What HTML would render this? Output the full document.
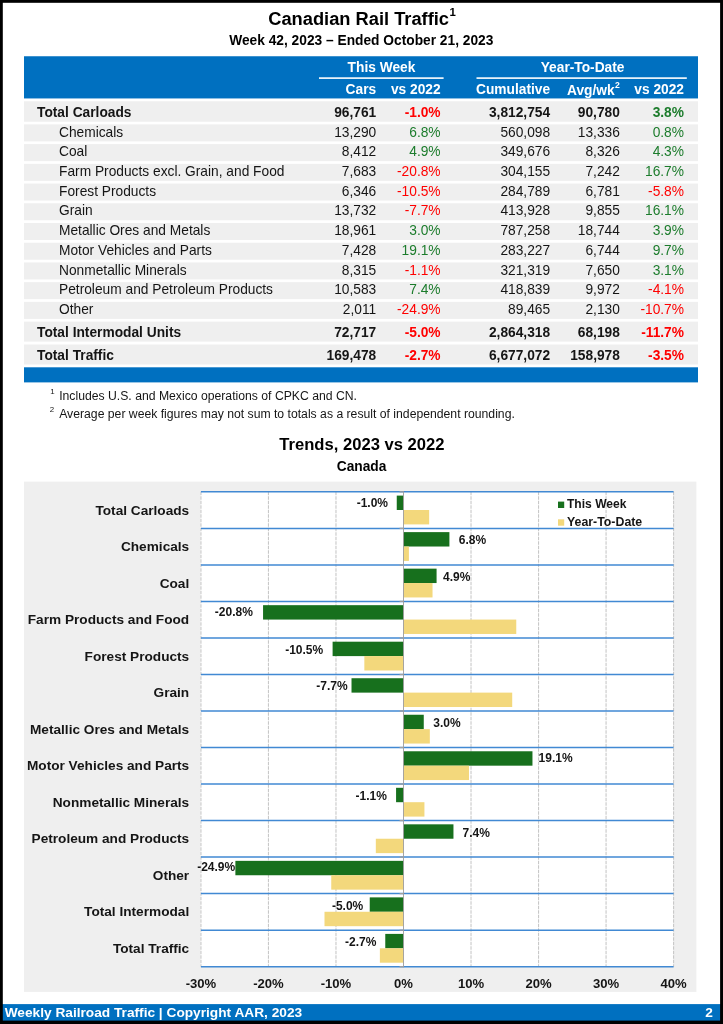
<!DOCTYPE html>
<html lang="en"><head><meta charset="utf-8"><title>Canadian Rail Traffic</title>
<style>
html,body{margin:0;padding:0;background:#fff;}
body{width:723px;height:1024px;overflow:hidden;}
svg{display:block;}
svg text{font-family:"Liberation Sans",sans-serif;font-weight:bold;}
svg text.n{font-weight:normal;}
</style></head><body>
<svg width="723" height="1024" viewBox="0 0 723 1024">
<text x="268.20" y="25.40" font-size="18.3" fill="#000">Canadian Rail Traffic<tspan dy="-9.3" dx="0.4" font-size="11.4">1</tspan></text>
<text x="361.30" y="44.70" font-size="13.75" fill="#000" text-anchor="middle">Week 42, 2023 – Ended October 21, 2023</text>
<rect x="24.00" y="56.25" width="674.00" height="42.20" fill="#0070c0"/>
<rect x="319.00" y="77.30" width="124.60" height="1.60" fill="#fff"/>
<rect x="476.50" y="77.30" width="210.30" height="1.60" fill="#fff"/>
<text x="381.50" y="72.10" font-size="13.75" fill="#fff" text-anchor="middle">This Week</text>
<text x="582.60" y="72.10" font-size="13.75" fill="#fff" text-anchor="middle">Year-To-Date</text>
<text x="376.20" y="94.00" font-size="13.75" fill="#fff" text-anchor="end">Cars</text>
<text x="440.60" y="94.00" font-size="13.75" fill="#fff" text-anchor="end">vs 2022</text>
<text x="550.10" y="94.00" font-size="13.75" fill="#fff" text-anchor="end">Cumulative</text>
<text x="684.00" y="94.00" font-size="13.75" fill="#fff" text-anchor="end">vs 2022</text>
<text x="567.00" y="95.10" font-size="13.75" fill="#fff">Avg/wk<tspan dy="-6.7" dx="0.3" font-size="8.6">2</tspan></text>
<rect x="24.00" y="101.25" width="674.00" height="20.50" fill="#efefef"/>
<text x="37.00" y="116.62" font-size="13.75" fill="#151515">Total Carloads</text>
<text x="376.20" y="116.62" font-size="13.75" fill="#151515" text-anchor="end">96,761</text>
<text x="440.60" y="116.62" font-size="13.75" fill="#ff0000" text-anchor="end">-1.0%</text>
<text x="550.10" y="116.62" font-size="13.75" fill="#151515" text-anchor="end">3,812,754</text>
<text x="619.90" y="116.62" font-size="13.75" fill="#151515" text-anchor="end">90,780</text>
<text x="684.00" y="116.62" font-size="13.75" fill="#1c7c2c" text-anchor="end">3.8%</text>
<rect x="24.00" y="124.40" width="674.00" height="17.00" fill="#efefef"/>
<text x="59.00" y="136.50" font-size="13.75" fill="#151515" class="n">Chemicals</text>
<text x="376.20" y="136.50" font-size="13.75" fill="#151515" text-anchor="end" class="n">13,290</text>
<text x="440.60" y="136.50" font-size="13.75" fill="#1c7c2c" text-anchor="end" class="n">6.8%</text>
<text x="550.10" y="136.50" font-size="13.75" fill="#151515" text-anchor="end" class="n">560,098</text>
<text x="619.90" y="136.50" font-size="13.75" fill="#151515" text-anchor="end" class="n">13,336</text>
<text x="684.00" y="136.50" font-size="13.75" fill="#1c7c2c" text-anchor="end" class="n">0.8%</text>
<rect x="24.00" y="144.12" width="674.00" height="17.00" fill="#efefef"/>
<text x="59.00" y="156.22" font-size="13.75" fill="#151515" class="n">Coal</text>
<text x="376.20" y="156.22" font-size="13.75" fill="#151515" text-anchor="end" class="n">8,412</text>
<text x="440.60" y="156.22" font-size="13.75" fill="#1c7c2c" text-anchor="end" class="n">4.9%</text>
<text x="550.10" y="156.22" font-size="13.75" fill="#151515" text-anchor="end" class="n">349,676</text>
<text x="619.90" y="156.22" font-size="13.75" fill="#151515" text-anchor="end" class="n">8,326</text>
<text x="684.00" y="156.22" font-size="13.75" fill="#1c7c2c" text-anchor="end" class="n">4.3%</text>
<rect x="24.00" y="163.84" width="674.00" height="17.00" fill="#efefef"/>
<text x="59.00" y="175.94" font-size="13.75" fill="#151515" class="n">Farm Products excl. Grain, and Food</text>
<text x="376.20" y="175.94" font-size="13.75" fill="#151515" text-anchor="end" class="n">7,683</text>
<text x="440.60" y="175.94" font-size="13.75" fill="#ff0000" text-anchor="end" class="n">-20.8%</text>
<text x="550.10" y="175.94" font-size="13.75" fill="#151515" text-anchor="end" class="n">304,155</text>
<text x="619.90" y="175.94" font-size="13.75" fill="#151515" text-anchor="end" class="n">7,242</text>
<text x="684.00" y="175.94" font-size="13.75" fill="#1c7c2c" text-anchor="end" class="n">16.7%</text>
<rect x="24.00" y="183.56" width="674.00" height="17.00" fill="#efefef"/>
<text x="59.00" y="195.66" font-size="13.75" fill="#151515" class="n">Forest Products</text>
<text x="376.20" y="195.66" font-size="13.75" fill="#151515" text-anchor="end" class="n">6,346</text>
<text x="440.60" y="195.66" font-size="13.75" fill="#ff0000" text-anchor="end" class="n">-10.5%</text>
<text x="550.10" y="195.66" font-size="13.75" fill="#151515" text-anchor="end" class="n">284,789</text>
<text x="619.90" y="195.66" font-size="13.75" fill="#151515" text-anchor="end" class="n">6,781</text>
<text x="684.00" y="195.66" font-size="13.75" fill="#ff0000" text-anchor="end" class="n">-5.8%</text>
<rect x="24.00" y="203.28" width="674.00" height="17.00" fill="#efefef"/>
<text x="59.00" y="215.38" font-size="13.75" fill="#151515" class="n">Grain</text>
<text x="376.20" y="215.38" font-size="13.75" fill="#151515" text-anchor="end" class="n">13,732</text>
<text x="440.60" y="215.38" font-size="13.75" fill="#ff0000" text-anchor="end" class="n">-7.7%</text>
<text x="550.10" y="215.38" font-size="13.75" fill="#151515" text-anchor="end" class="n">413,928</text>
<text x="619.90" y="215.38" font-size="13.75" fill="#151515" text-anchor="end" class="n">9,855</text>
<text x="684.00" y="215.38" font-size="13.75" fill="#1c7c2c" text-anchor="end" class="n">16.1%</text>
<rect x="24.00" y="223.00" width="674.00" height="17.00" fill="#efefef"/>
<text x="59.00" y="235.10" font-size="13.75" fill="#151515" class="n">Metallic Ores and Metals</text>
<text x="376.20" y="235.10" font-size="13.75" fill="#151515" text-anchor="end" class="n">18,961</text>
<text x="440.60" y="235.10" font-size="13.75" fill="#1c7c2c" text-anchor="end" class="n">3.0%</text>
<text x="550.10" y="235.10" font-size="13.75" fill="#151515" text-anchor="end" class="n">787,258</text>
<text x="619.90" y="235.10" font-size="13.75" fill="#151515" text-anchor="end" class="n">18,744</text>
<text x="684.00" y="235.10" font-size="13.75" fill="#1c7c2c" text-anchor="end" class="n">3.9%</text>
<rect x="24.00" y="242.72" width="674.00" height="17.00" fill="#efefef"/>
<text x="59.00" y="254.82" font-size="13.75" fill="#151515" class="n">Motor Vehicles and Parts</text>
<text x="376.20" y="254.82" font-size="13.75" fill="#151515" text-anchor="end" class="n">7,428</text>
<text x="440.60" y="254.82" font-size="13.75" fill="#1c7c2c" text-anchor="end" class="n">19.1%</text>
<text x="550.10" y="254.82" font-size="13.75" fill="#151515" text-anchor="end" class="n">283,227</text>
<text x="619.90" y="254.82" font-size="13.75" fill="#151515" text-anchor="end" class="n">6,744</text>
<text x="684.00" y="254.82" font-size="13.75" fill="#1c7c2c" text-anchor="end" class="n">9.7%</text>
<rect x="24.00" y="262.44" width="674.00" height="17.00" fill="#efefef"/>
<text x="59.00" y="274.54" font-size="13.75" fill="#151515" class="n">Nonmetallic Minerals</text>
<text x="376.20" y="274.54" font-size="13.75" fill="#151515" text-anchor="end" class="n">8,315</text>
<text x="440.60" y="274.54" font-size="13.75" fill="#ff0000" text-anchor="end" class="n">-1.1%</text>
<text x="550.10" y="274.54" font-size="13.75" fill="#151515" text-anchor="end" class="n">321,319</text>
<text x="619.90" y="274.54" font-size="13.75" fill="#151515" text-anchor="end" class="n">7,650</text>
<text x="684.00" y="274.54" font-size="13.75" fill="#1c7c2c" text-anchor="end" class="n">3.1%</text>
<rect x="24.00" y="282.16" width="674.00" height="17.00" fill="#efefef"/>
<text x="59.00" y="294.26" font-size="13.75" fill="#151515" class="n">Petroleum and Petroleum Products</text>
<text x="376.20" y="294.26" font-size="13.75" fill="#151515" text-anchor="end" class="n">10,583</text>
<text x="440.60" y="294.26" font-size="13.75" fill="#1c7c2c" text-anchor="end" class="n">7.4%</text>
<text x="550.10" y="294.26" font-size="13.75" fill="#151515" text-anchor="end" class="n">418,839</text>
<text x="619.90" y="294.26" font-size="13.75" fill="#151515" text-anchor="end" class="n">9,972</text>
<text x="684.00" y="294.26" font-size="13.75" fill="#ff0000" text-anchor="end" class="n">-4.1%</text>
<rect x="24.00" y="301.88" width="674.00" height="17.00" fill="#efefef"/>
<text x="59.00" y="313.98" font-size="13.75" fill="#151515" class="n">Other</text>
<text x="376.20" y="313.98" font-size="13.75" fill="#151515" text-anchor="end" class="n">2,011</text>
<text x="440.60" y="313.98" font-size="13.75" fill="#ff0000" text-anchor="end" class="n">-24.9%</text>
<text x="550.10" y="313.98" font-size="13.75" fill="#151515" text-anchor="end" class="n">89,465</text>
<text x="619.90" y="313.98" font-size="13.75" fill="#151515" text-anchor="end" class="n">2,130</text>
<text x="684.00" y="313.98" font-size="13.75" fill="#ff0000" text-anchor="end" class="n">-10.7%</text>
<rect x="24.00" y="321.60" width="674.00" height="20.00" fill="#efefef"/>
<text x="37.00" y="336.97" font-size="13.75" fill="#151515">Total Intermodal Units</text>
<text x="376.20" y="336.97" font-size="13.75" fill="#151515" text-anchor="end">72,717</text>
<text x="440.60" y="336.97" font-size="13.75" fill="#ff0000" text-anchor="end">-5.0%</text>
<text x="550.10" y="336.97" font-size="13.75" fill="#151515" text-anchor="end">2,864,318</text>
<text x="619.90" y="336.97" font-size="13.75" fill="#151515" text-anchor="end">68,198</text>
<text x="684.00" y="336.97" font-size="13.75" fill="#ff0000" text-anchor="end">-11.7%</text>
<rect x="24.00" y="344.50" width="674.00" height="20.00" fill="#efefef"/>
<text x="37.00" y="359.87" font-size="13.75" fill="#151515">Total Traffic</text>
<text x="376.20" y="359.87" font-size="13.75" fill="#151515" text-anchor="end">169,478</text>
<text x="440.60" y="359.87" font-size="13.75" fill="#ff0000" text-anchor="end">-2.7%</text>
<text x="550.10" y="359.87" font-size="13.75" fill="#151515" text-anchor="end">6,677,072</text>
<text x="619.90" y="359.87" font-size="13.75" fill="#151515" text-anchor="end">158,978</text>
<text x="684.00" y="359.87" font-size="13.75" fill="#ff0000" text-anchor="end">-3.5%</text>
<rect x="24.00" y="367.30" width="674.00" height="15.10" fill="#0070c0"/>
<text x="50.30" y="393.50" font-size="7.9" fill="#151515" class="n">1</text>
<text x="59.20" y="400.00" font-size="12.21" fill="#151515" class="n">Includes U.S. and Mexico operations of CPKC and CN.</text>
<text x="49.80" y="412.30" font-size="7.9" fill="#151515" class="n">2</text>
<text x="59.20" y="417.90" font-size="12.21" fill="#151515" class="n">Average per week figures may not sum to totals as a result of independent rounding.</text>
<text x="361.90" y="449.60" font-size="16.6" fill="#000" text-anchor="middle">Trends, 2023 vs 2022</text>
<text x="361.60" y="470.60" font-size="13.75" fill="#000" text-anchor="middle">Canada</text>
<rect x="24.00" y="481.60" width="672.40" height="510.30" fill="#efefef"/>
<rect x="200.34" y="491.85" width="473.24" height="474.82" fill="#fff"/>
<line x1="200.94" y1="491.85" x2="200.94" y2="966.67" stroke="#c8c8c8" stroke-width="1.1" stroke-dasharray="3.3,1.2"/>
<line x1="268.46" y1="491.85" x2="268.46" y2="966.67" stroke="#c8c8c8" stroke-width="1.1" stroke-dasharray="3.3,1.2"/>
<line x1="335.98" y1="491.85" x2="335.98" y2="966.67" stroke="#c8c8c8" stroke-width="1.1" stroke-dasharray="3.3,1.2"/>
<line x1="471.02" y1="491.85" x2="471.02" y2="966.67" stroke="#c8c8c8" stroke-width="1.1" stroke-dasharray="3.3,1.2"/>
<line x1="538.54" y1="491.85" x2="538.54" y2="966.67" stroke="#c8c8c8" stroke-width="1.1" stroke-dasharray="3.3,1.2"/>
<line x1="606.06" y1="491.85" x2="606.06" y2="966.67" stroke="#c8c8c8" stroke-width="1.1" stroke-dasharray="3.3,1.2"/>
<line x1="673.58" y1="491.85" x2="673.58" y2="966.67" stroke="#c8c8c8" stroke-width="1.1" stroke-dasharray="3.3,1.2"/>
<rect x="396.75" y="495.60" width="6.75" height="14.40" fill="#17701d"/>
<rect x="403.50" y="510.00" width="25.66" height="14.40" fill="#f3d87c"/>
<rect x="403.50" y="532.12" width="45.91" height="14.40" fill="#17701d"/>
<rect x="403.50" y="546.52" width="5.40" height="14.40" fill="#f3d87c"/>
<rect x="403.50" y="568.65" width="33.08" height="14.40" fill="#17701d"/>
<rect x="403.50" y="583.05" width="29.03" height="14.40" fill="#f3d87c"/>
<rect x="263.06" y="605.17" width="140.44" height="14.40" fill="#17701d"/>
<rect x="403.50" y="619.57" width="112.76" height="14.40" fill="#f3d87c"/>
<rect x="332.60" y="641.70" width="70.90" height="14.40" fill="#17701d"/>
<rect x="364.34" y="656.10" width="39.16" height="14.40" fill="#f3d87c"/>
<rect x="351.51" y="678.23" width="51.99" height="14.40" fill="#17701d"/>
<rect x="403.50" y="692.62" width="108.71" height="14.40" fill="#f3d87c"/>
<rect x="403.50" y="714.75" width="20.26" height="14.40" fill="#17701d"/>
<rect x="403.50" y="729.15" width="26.33" height="14.40" fill="#f3d87c"/>
<rect x="403.50" y="751.27" width="128.96" height="14.40" fill="#17701d"/>
<rect x="403.50" y="765.67" width="65.49" height="14.40" fill="#f3d87c"/>
<rect x="396.07" y="787.80" width="7.43" height="14.40" fill="#17701d"/>
<rect x="403.50" y="802.20" width="20.93" height="14.40" fill="#f3d87c"/>
<rect x="403.50" y="824.33" width="49.96" height="14.40" fill="#17701d"/>
<rect x="375.82" y="838.73" width="27.68" height="14.40" fill="#f3d87c"/>
<rect x="235.38" y="860.85" width="168.12" height="14.40" fill="#17701d"/>
<rect x="331.25" y="875.25" width="72.25" height="14.40" fill="#f3d87c"/>
<rect x="369.74" y="897.38" width="33.76" height="14.40" fill="#17701d"/>
<rect x="324.50" y="911.77" width="79.00" height="14.40" fill="#f3d87c"/>
<rect x="385.27" y="933.90" width="18.23" height="14.40" fill="#17701d"/>
<rect x="379.87" y="948.30" width="23.63" height="14.40" fill="#f3d87c"/>
<line x1="200.94" y1="491.85" x2="673.58" y2="491.85" stroke="#4189d3" stroke-width="1.5"/>
<line x1="399.60" y1="491.85" x2="403.50" y2="491.85" stroke="#a0a0a0" stroke-width="1.25"/>
<line x1="200.94" y1="528.38" x2="673.58" y2="528.38" stroke="#4189d3" stroke-width="1.5"/>
<line x1="399.60" y1="528.38" x2="403.50" y2="528.38" stroke="#a0a0a0" stroke-width="1.25"/>
<line x1="200.94" y1="564.90" x2="673.58" y2="564.90" stroke="#4189d3" stroke-width="1.5"/>
<line x1="399.60" y1="564.90" x2="403.50" y2="564.90" stroke="#a0a0a0" stroke-width="1.25"/>
<line x1="200.94" y1="601.42" x2="673.58" y2="601.42" stroke="#4189d3" stroke-width="1.5"/>
<line x1="399.60" y1="601.42" x2="403.50" y2="601.42" stroke="#a0a0a0" stroke-width="1.25"/>
<line x1="200.94" y1="637.95" x2="673.58" y2="637.95" stroke="#4189d3" stroke-width="1.5"/>
<line x1="399.60" y1="637.95" x2="403.50" y2="637.95" stroke="#a0a0a0" stroke-width="1.25"/>
<line x1="200.94" y1="674.48" x2="673.58" y2="674.48" stroke="#4189d3" stroke-width="1.5"/>
<line x1="399.60" y1="674.48" x2="403.50" y2="674.48" stroke="#a0a0a0" stroke-width="1.25"/>
<line x1="200.94" y1="711.00" x2="673.58" y2="711.00" stroke="#4189d3" stroke-width="1.5"/>
<line x1="399.60" y1="711.00" x2="403.50" y2="711.00" stroke="#a0a0a0" stroke-width="1.25"/>
<line x1="200.94" y1="747.52" x2="673.58" y2="747.52" stroke="#4189d3" stroke-width="1.5"/>
<line x1="399.60" y1="747.52" x2="403.50" y2="747.52" stroke="#a0a0a0" stroke-width="1.25"/>
<line x1="200.94" y1="784.05" x2="673.58" y2="784.05" stroke="#4189d3" stroke-width="1.5"/>
<line x1="399.60" y1="784.05" x2="403.50" y2="784.05" stroke="#a0a0a0" stroke-width="1.25"/>
<line x1="200.94" y1="820.58" x2="673.58" y2="820.58" stroke="#4189d3" stroke-width="1.5"/>
<line x1="399.60" y1="820.58" x2="403.50" y2="820.58" stroke="#a0a0a0" stroke-width="1.25"/>
<line x1="200.94" y1="857.10" x2="673.58" y2="857.10" stroke="#4189d3" stroke-width="1.5"/>
<line x1="399.60" y1="857.10" x2="403.50" y2="857.10" stroke="#a0a0a0" stroke-width="1.25"/>
<line x1="200.94" y1="893.62" x2="673.58" y2="893.62" stroke="#4189d3" stroke-width="1.5"/>
<line x1="399.60" y1="893.62" x2="403.50" y2="893.62" stroke="#a0a0a0" stroke-width="1.25"/>
<line x1="200.94" y1="930.15" x2="673.58" y2="930.15" stroke="#4189d3" stroke-width="1.5"/>
<line x1="399.60" y1="930.15" x2="403.50" y2="930.15" stroke="#a0a0a0" stroke-width="1.25"/>
<line x1="200.94" y1="966.67" x2="673.58" y2="966.67" stroke="#4189d3" stroke-width="1.5"/>
<line x1="399.60" y1="966.67" x2="403.50" y2="966.67" stroke="#a0a0a0" stroke-width="1.25"/>
<line x1="403.50" y1="491.25" x2="403.50" y2="967.27" stroke="#9c9c9c" stroke-width="0.9"/>
<text x="189.20" y="514.60" font-size="13.65" fill="#151515" text-anchor="end">Total Carloads</text>
<text x="189.20" y="551.12" font-size="13.65" fill="#151515" text-anchor="end">Chemicals</text>
<text x="189.20" y="587.65" font-size="13.65" fill="#151515" text-anchor="end">Coal</text>
<text x="189.20" y="624.17" font-size="13.65" fill="#151515" text-anchor="end">Farm Products and Food</text>
<text x="189.20" y="660.70" font-size="13.65" fill="#151515" text-anchor="end">Forest Products</text>
<text x="189.20" y="697.23" font-size="13.65" fill="#151515" text-anchor="end">Grain</text>
<text x="189.20" y="733.75" font-size="13.65" fill="#151515" text-anchor="end">Metallic Ores and Metals</text>
<text x="189.20" y="770.27" font-size="13.65" fill="#151515" text-anchor="end">Motor Vehicles and Parts</text>
<text x="189.20" y="806.80" font-size="13.65" fill="#151515" text-anchor="end">Nonmetallic Minerals</text>
<text x="189.20" y="843.33" font-size="13.65" fill="#151515" text-anchor="end">Petroleum and Products</text>
<text x="189.20" y="879.85" font-size="13.65" fill="#151515" text-anchor="end">Other</text>
<text x="189.20" y="916.38" font-size="13.65" fill="#151515" text-anchor="end">Total Intermodal</text>
<text x="189.20" y="952.90" font-size="13.65" fill="#151515" text-anchor="end">Total Traffic</text>
<text x="388.00" y="507.00" font-size="12" fill="#151515" text-anchor="end">-1.0%</text>
<text x="458.75" y="544.00" font-size="12" fill="#151515">6.8%</text>
<text x="443.10" y="581.00" font-size="12" fill="#151515">4.9%</text>
<text x="252.90" y="616.00" font-size="12" fill="#151515" text-anchor="end">-20.8%</text>
<text x="323.20" y="654.00" font-size="12" fill="#151515" text-anchor="end">-10.5%</text>
<text x="347.60" y="690.00" font-size="12" fill="#151515" text-anchor="end">-7.7%</text>
<text x="433.25" y="727.00" font-size="12" fill="#151515">3.0%</text>
<text x="538.60" y="762.00" font-size="12" fill="#151515">19.1%</text>
<text x="386.90" y="800.00" font-size="12" fill="#151515" text-anchor="end">-1.1%</text>
<text x="462.60" y="837.00" font-size="12" fill="#151515">7.4%</text>
<text x="235.20" y="871.00" font-size="12" fill="#151515" text-anchor="end">-24.9%</text>
<text x="363.30" y="910.00" font-size="12" fill="#151515" text-anchor="end">-5.0%</text>
<text x="376.40" y="946.00" font-size="12" fill="#151515" text-anchor="end">-2.7%</text>
<text x="200.94" y="987.50" font-size="13.1" fill="#151515" text-anchor="middle">-30%</text>
<text x="268.46" y="987.50" font-size="13.1" fill="#151515" text-anchor="middle">-20%</text>
<text x="335.98" y="987.50" font-size="13.1" fill="#151515" text-anchor="middle">-10%</text>
<text x="403.50" y="987.50" font-size="13.1" fill="#151515" text-anchor="middle">0%</text>
<text x="471.02" y="987.50" font-size="13.1" fill="#151515" text-anchor="middle">10%</text>
<text x="538.54" y="987.50" font-size="13.1" fill="#151515" text-anchor="middle">20%</text>
<text x="606.06" y="987.50" font-size="13.1" fill="#151515" text-anchor="middle">30%</text>
<text x="673.58" y="987.50" font-size="13.1" fill="#151515" text-anchor="middle">40%</text>
<rect x="558.00" y="501.60" width="6.20" height="6.40" fill="#17701d"/>
<rect x="558.00" y="519.30" width="6.20" height="6.40" fill="#f3d87c"/>
<text x="567.00" y="508.20" font-size="12.07" fill="#151515">This Week</text>
<text x="567.00" y="525.80" font-size="12.35" fill="#151515">Year-To-Date</text>
<rect x="0.00" y="1004.10" width="723.00" height="19.90" fill="#0070c0"/>
<text x="4.70" y="1016.60" font-size="13.69" fill="#fff">Weekly Railroad Traffic | Copyright AAR, 2023</text>
<text x="712.80" y="1016.60" font-size="13.69" fill="#fff" text-anchor="end">2</text>
<rect x="0.00" y="0.00" width="723.00" height="2.80" fill="#000"/>
<rect x="0.00" y="0.00" width="2.80" height="1024.00" fill="#000"/>
<rect x="720.10" y="0.00" width="2.90" height="1024.00" fill="#000"/>
<rect x="0.00" y="1020.60" width="723.00" height="3.40" fill="#000"/>
</svg>
</body></html>
